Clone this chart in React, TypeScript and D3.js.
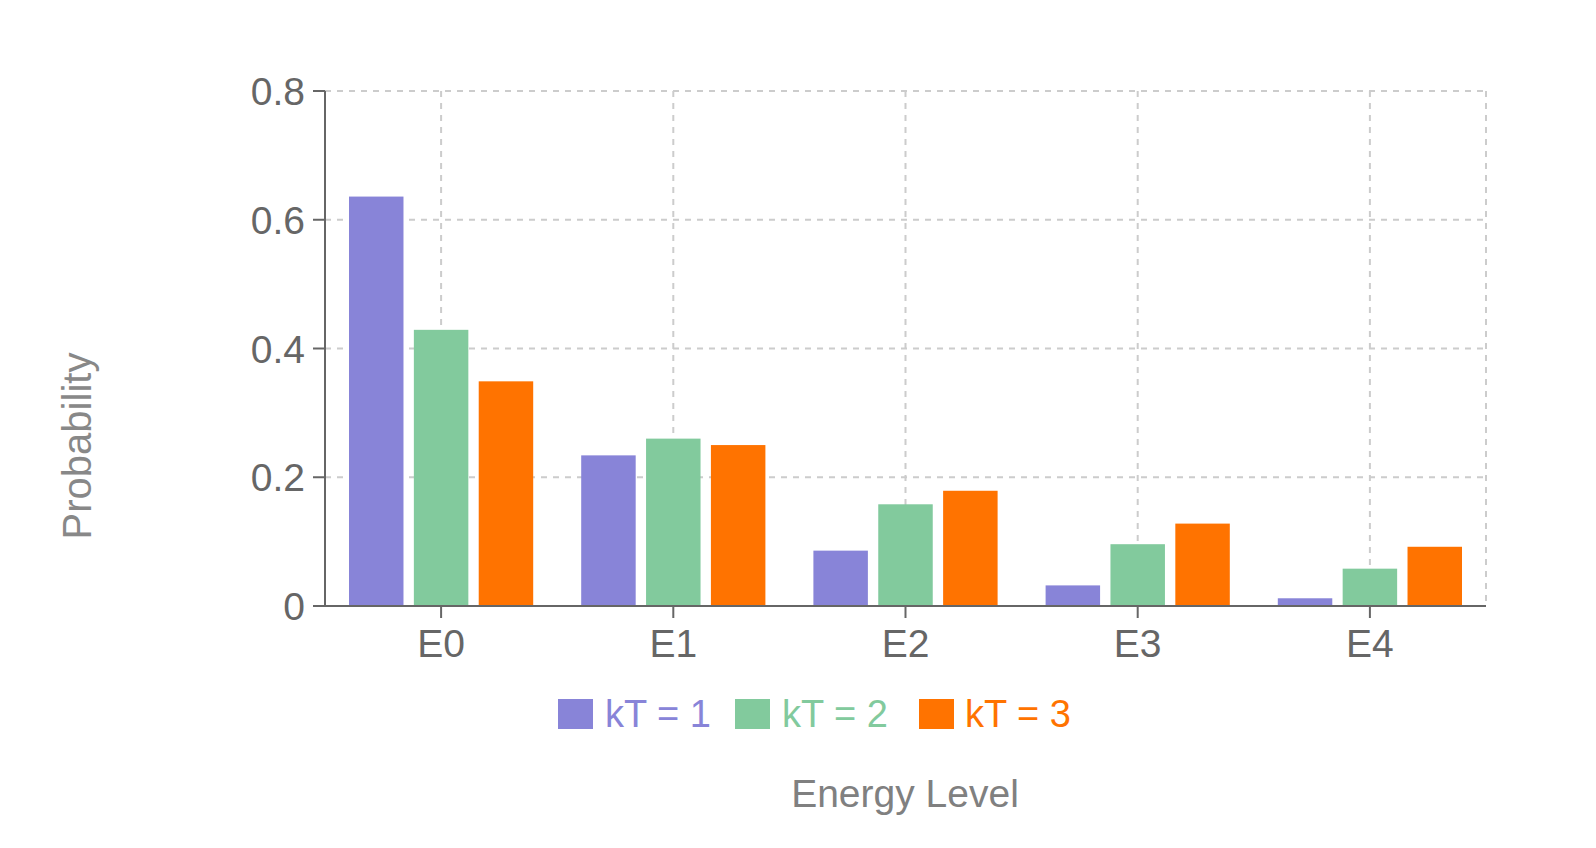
import React from "react";
import * as d3 from "d3";

const categories = ["E0", "E1", "E2", "E3", "E4"];
const seriesNames = ["kT = 1", "kT = 2", "kT = 3"];
const kT1 = [0.636, 0.234, 0.086, 0.032, 0.012];
const kT2 = [0.429, 0.26, 0.158, 0.096, 0.058];
const kT3 = [0.349, 0.25, 0.179, 0.128, 0.092];
const yTicks = [0, 0.2, 0.4, 0.6, 0.8];
const colors = ["#8884d8", "#82ca9d", "#ff7300"];

const W = 1596;
const H = 848;
const M = { left: 325, right: 1486, top: 91, bottom: 606 };
const FONT = "'Liberation Sans', Arial, Helvetica, sans-serif";

export default function App() {
  const series = [kT1, kT2, kT3];
  const x0 = d3.scaleBand<string>().domain(categories).range([M.left, M.right]).padding(0);
  const inner = x0.bandwidth();
  const x1 = d3
    .scaleBand<string>()
    .domain(seriesNames)
    .range([24, inner - 24])
    .paddingInner(0.16)
    .paddingOuter(0);
  const y = d3.scaleLinear().domain([0, 0.8]).range([M.bottom, M.top]);
  const fmt = (v: number) => (v === 0 ? "0" : String(v));

  const legendItems = [
    { sx: 558, tx: 605 },
    { sx: 735, tx: 782 },
    { sx: 919, tx: 965 },
  ];

  return (
    <svg
      width={W}
      height={H}
      style={{ position: "absolute", left: 0, top: 0, background: "#fff" }}
      fontFamily={FONT}
    >
      {/* grid */}
      <g stroke="#ccc" strokeWidth={2} strokeDasharray="6 6" fill="none">
        {yTicks.map((t) => (
          <line key={"h" + t} x1={M.left} x2={M.right} y1={y(t)} y2={y(t)} />
        ))}
        {categories.map((c) => {
          const cx = (x0(c) as number) + inner / 2;
          return <line key={"v" + c} x1={cx} x2={cx} y1={M.top} y2={M.bottom} />;
        })}
        <line x1={M.right} x2={M.right} y1={M.top} y2={M.bottom} />
      </g>

      {/* bars */}
      {series.map((vals, si) => (
        <g key={seriesNames[si]} fill={colors[si]}>
          {vals.map((v, ci) => {
            const bx = (x0(categories[ci]) as number) + (x1(seriesNames[si]) as number);
            return (
              <rect
                key={ci}
                x={bx}
                y={y(v)}
                width={x1.bandwidth()}
                height={y(0) - y(v)}
              />
            );
          })}
        </g>
      ))}

      {/* y axis */}
      <line x1={M.left} x2={M.left} y1={M.top} y2={M.bottom} stroke="#666" strokeWidth={2} />
      {yTicks.map((t) => (
        <g key={"yt" + t}>
          <line x1={M.left - 12} x2={M.left} y1={y(t)} y2={y(t)} stroke="#666" strokeWidth={2} />
          <text
            x={M.left - 20}
            y={y(t)}
            dy="0.36em"
            textAnchor="end"
            fontSize={39}
            fill="#666"
          >
            {fmt(t)}
          </text>
        </g>
      ))}

      {/* x axis */}
      <line x1={M.left - 12} x2={M.right} y1={M.bottom} y2={M.bottom} stroke="#666" strokeWidth={2} />
      {categories.map((c) => {
        const cx = (x0(c) as number) + inner / 2;
        return (
          <g key={"xt" + c}>
            <line x1={cx} x2={cx} y1={M.bottom} y2={M.bottom + 12} stroke="#666" strokeWidth={2} />
            <text x={cx} y={M.bottom + 51} textAnchor="middle" fontSize={39} fill="#666">
              {c}
            </text>
          </g>
        );
      })}

      {/* legend */}
      {seriesNames.map((s, i) => (
        <g key={"lg" + s}>
          <rect x={legendItems[i].sx} y={699} width={35} height={30} fill={colors[i]} />
          <text x={legendItems[i].tx} y={727} fontSize={38} fill={colors[i]}>
            {s}
          </text>
        </g>
      ))}

      {/* axis labels */}
      <text
        transform={`translate(91,446) rotate(-90)`}
        textAnchor="middle"
        fontSize={40}
        fill="#888"
      >
        Probability
      </text>
      <text x={905} y={807} textAnchor="middle" fontSize={39} fill="#808080">
        Energy Level
      </text>
    </svg>
  );
}
